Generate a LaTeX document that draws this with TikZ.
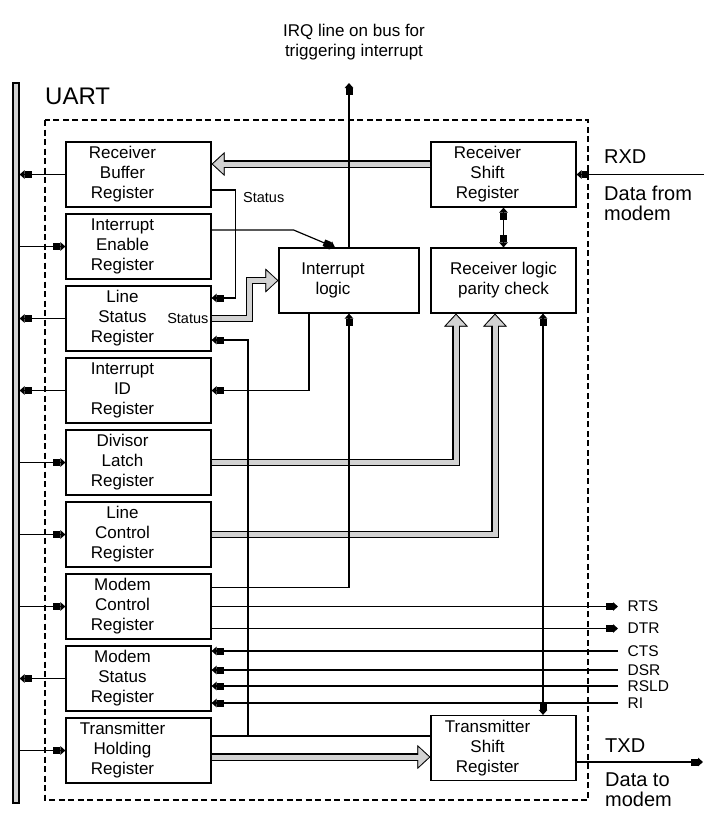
\documentclass[tikz,border=0pt]{standalone}
\usepackage{fontspec}
\setmainfont{Liberation Sans}
\usetikzlibrary{arrows.meta, positioning, calc}
\tikzset{
  regbox/.style={rectangle, draw, line width=1.2pt, minimum width=145pt,
                 minimum height=65pt, inner sep=0pt},
  boxfont/.style={font=\fontsize{17}{20}\selectfont, align=center},
  boxtext/.style={boxfont, xshift=-16pt},
  busbar/.style={rectangle, draw, line width=1.2pt, fill=gray!35,
                 minimum width=6pt, minimum height=720pt, inner sep=0pt},
  uartbox/.style={line width=1.1pt, dash pattern=on 6pt off 3.5pt},
  wire/.style={line width=1.2pt},
  sig/.style={line width=1.2pt,
              -{Rectangle[length=7pt,width=7pt]Triangle[length=5pt,width=8.5pt]}},
  sigboth/.style={line width=1.2pt,
              {Triangle[length=5pt,width=8.5pt]Rectangle[length=7pt,width=7pt]}-{Rectangle[length=7pt,width=7pt]Triangle[length=5pt,width=8.5pt]}},
  wide/.style={draw=gray!35, line width=5pt, line join=miter, shorten >=1.5pt,
               -{Triangle[length=10.5pt,width=19.4pt,line width=0.5pt]},
               preaction={draw=black, line width=7.2pt, shorten >=0pt,
               -{Triangle[length=13pt,width=24pt,line width=0.5pt]}}},
  lbl/.style={font=\fontsize{14.5}{16}\selectfont, inner sep=0pt},
  siglbl/.style={font=\fontsize{15.5}{17}\selectfont, inner sep=0pt},
  portlbl/.style={font=\fontsize{20}{20}\selectfont, inner sep=0pt, align=left},
}
\begin{document}
\begin{tikzpicture}[x=1pt, y=-1pt, node distance=5.8pt]
  \useasboundingbox (0,0) rectangle (716,815);
  %% system bus and UART frame
  \node[busbar] (bus) at (16,443) {};
  \draw[uartbox] (45,120) rectangle (588,800);
  \node[font=\fontsize{24}{24}\selectfont, anchor=base west, inner sep=0pt] (uart) at (45,104) {UART};
  \node[font=\fontsize{17}{20}\selectfont, align=center, anchor=north, inner sep=0pt] (irq) at (354,24)
    {IRQ line on bus for\\triggering interrupt};
  %% register column
  \node[regbox, label={[boxtext]center:Receiver\\Buffer\\Register}] (rbr) at (138.5,174.5) {};
  \node[regbox, below=of rbr, label={[boxtext]center:Interrupt\\Enable\\Register}] (ier) {};
  \node[regbox, below=of ier, label={[boxtext]center:Line\\Status\\Register}] (lsr) {};
  \node[regbox, below=of lsr, label={[boxtext]center:Interrupt\\ID\\Register}] (iir) {};
  \node[regbox, below=of iir, label={[boxtext]center:Divisor\\Latch\\Register}] (dlr) {};
  \node[regbox, below=of dlr, label={[boxtext]center:Line\\Control\\Register}] (lcr) {};
  \node[regbox, below=of lcr, label={[boxtext]center:Modem\\Control\\Register}] (mcr) {};
  \node[regbox, below=of mcr, label={[boxtext]center:Modem\\Status\\Register}] (msr) {};
  \node[regbox, below=of msr, label={[boxtext]center:Transmitter\\Holding\\Register}] (thr) {};
  %% logic and shift registers
  \node[regbox, label={[boxtext]center:Receiver\\Shift\\Register}] (rsr) at (503.5,174.5) {};
  \node[regbox, boxfont] (rlc) at (503.5,280.5) {Receiver logic\\parity check};
  \node[regbox, minimum width=140pt, label={[boxtext]center:Interrupt\\logic}] (intl) at (349,280.5) {};
  \node[regbox, label={[boxtext]center:Transmitter\\Shift\\Register}] (tsr) at (503.5,748) {};
  \coordinate (irqout) at (349,83);
  \coordinate (rxdin) at (704,174.5);
  \coordinate (txdout) at (703,762);
  \coordinate (sigx) at (618,0);
  \coordinate (tapx) at (248,0);
  %% bus connections
  \foreach \r in {rbr,lsr,iir,msr}
    \draw[sig] (\r.west) -- (\r.west -| bus.east);
  \foreach \r in {ier,dlr,lcr,mcr,thr}
    \draw[sig] (\r.west -| bus.east) -- (\r.west);
  %% wide data paths
  \draw[wide] ([yshift=10.5pt]rsr.west) -- ([yshift=10.5pt]rsr.west -| rbr.east);
  \draw[wide] (lsr.east) -- ++(38,0) |- (intl.west);
  \draw[wide] (dlr.east) -| ([xshift=-47.5pt]rlc.south);
  \draw[wide] (lcr.east) -| ([xshift=-8.5pt]rlc.south);
  \draw[wide] ([yshift=-6.5pt]thr.east) -- ([yshift=-6.5pt]thr.east -| tsr.west);
  %% status and interrupt lines
  \draw[sig] ([yshift=-15.5pt]rbr.east) -- ++(24,0) |- ([yshift=20.5pt]lsr.east);
  \node[lbl, anchor=west] (rbrstat) at (243,198) {Status};
  \node[lbl, anchor=east] (lsrstat) at ([xshift=-3pt]lsr.east) {Status};
  \draw[sig] ([yshift=16.5pt]ier.east) -- ++(82,0) -- ([xshift=-14pt]intl.north);
  \draw[sig] ([xshift=-40pt]intl.south) |- (iir.east);
  \draw[sig] (intl.north) -- (irqout);
  \draw[sig] ([yshift=19pt]mcr.east) -| (intl.south);
  %% modem lines
  \draw[sig] (mcr.east) -- (mcr.east -| sigx) node[siglbl, right=9pt] {RTS};
  \draw[sig] ([yshift=-22pt]mcr.east) -- ([yshift=-22pt]mcr.east -| sigx) node[siglbl, right=9pt] {DTR};
  \foreach \dy/\name in {27.5/CTS, 8.5/DSR, -7.5/RSLD, -24.5/RI}
    \draw[sig] ([yshift=\dy pt]msr.east -| sigx) node[siglbl, right=9pt] {\name} -- ([yshift=\dy pt]msr.east);
  %% transmitter side
  \draw[wire] ([yshift=14.5pt]thr.east) -- ([yshift=14.5pt]thr.east -| tsr.west);
  \draw[sig] ([yshift=14.5pt]thr.east -| tapx) |- ([yshift=-21.5pt]lsr.east);
  \draw[sigboth] (rsr.south) -- (rlc.north);
  \draw[sigboth] ([xshift=39.5pt]tsr.north) -- ([xshift=39.5pt]rlc.south);
  \draw[sig] (rxdin) -- (rsr.east);
  \draw[sig] ([yshift=-14pt]tsr.east) -- (txdout);
  \node[portlbl, anchor=base west] (rxd) at (604,163) {RXD};
  \node[portlbl, anchor=north west] (rxdnote) at (604,185.5) {Data from\\modem};
  \node[portlbl, anchor=base west] (txd) at (605,752) {TXD};
  \node[portlbl, anchor=north west] (txdnote) at (605,773) {Data to\\modem};
\end{tikzpicture}
\end{document}
